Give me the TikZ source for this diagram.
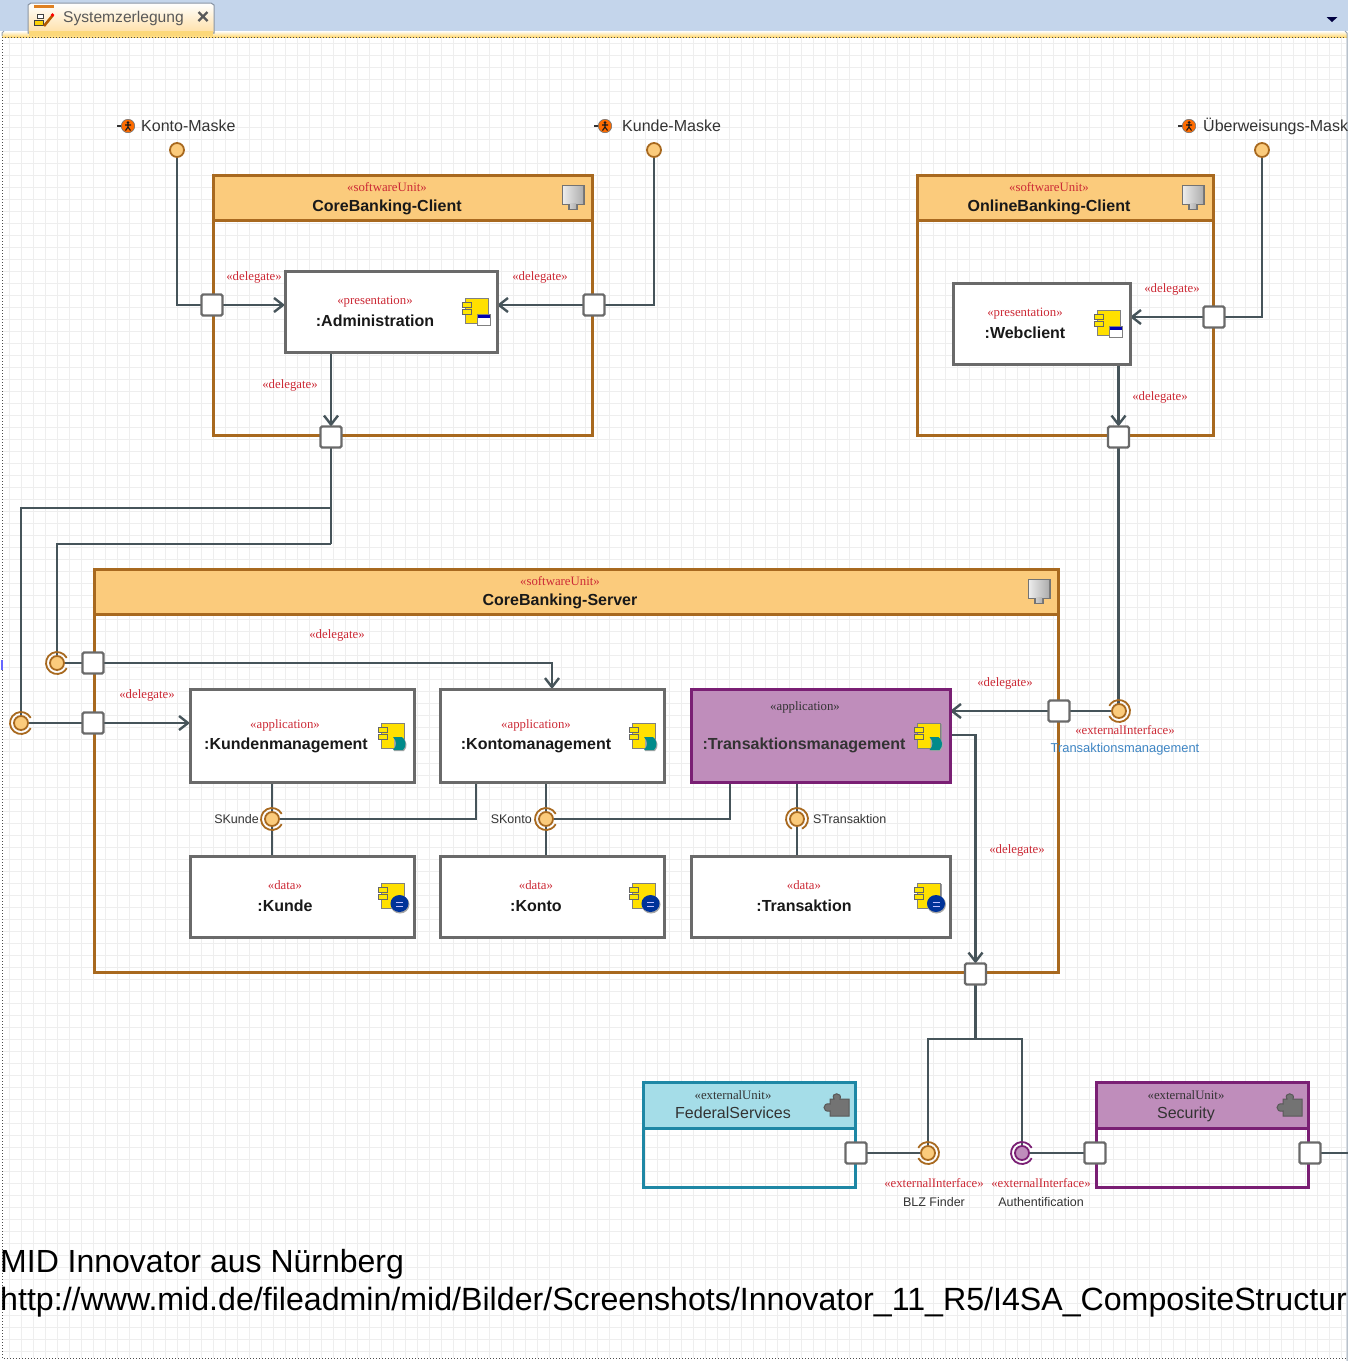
\documentclass[tikz,border=0pt]{standalone}
\usepackage{fontspec}
\setmainfont{Liberation Sans}
\newfontfamily\serifx{Liberation Serif}
\usetikzlibrary{arrows.meta,calc}
\pgfdeclarelayer{bgl}
\pgfdeclarelayer{wl}
\pgfsetlayers{bgl,wl,main}
\definecolor{barblue}{HTML}{C4D5EB}
\definecolor{gridc}{HTML}{EEEEEE}
\definecolor{wire}{HTML}{46545A}
\definecolor{portg}{HTML}{6A6A6A}
\definecolor{ocfill}{HTML}{FBCB7C}
\definecolor{ocline}{HTML}{A8691F}
\definecolor{pufill}{HTML}{BF8DBB}
\definecolor{puline}{HTML}{7A1F74}
\definecolor{blfill}{HTML}{A5DDE8}
\definecolor{blline}{HTML}{1E87A5}
\definecolor{redst}{HTML}{CC2A36}
\definecolor{linkb}{HTML}{3F86C4}
\definecolor{txtg}{HTML}{333333}
\definecolor{compy}{HTML}{FFE000}
\tikzset{
  partbox/.style={draw=portg,line width=3pt,fill=white,inner sep=0pt,outer sep=0pt,anchor=north west},
  purplebox/.style={partbox,draw=puline,fill=pufill},
  portn/.style={draw=portg,line width=2.4pt,fill=white,rounded corners=1.5pt,minimum size=21pt,inner sep=0pt,outer sep=0pt},
  lolli/.style={circle,draw=ocline,line width=1.8pt,fill=ocfill,minimum size=14pt,inner sep=0pt,outer sep=0pt},
  ballp/.style={lolli,draw=puline,fill=pufill},
  st/.style={font=\serifx\fontsize{12.8}{12.8}\selectfont,text=redst,inner sep=0pt,text height=8pt,text depth=0pt},
  stdark/.style={st,text=txtg},
  pname/.style={font=\bfseries\fontsize{16}{16}\selectfont,text=black!90,inner sep=0pt,text height=12pt,text depth=0pt},
  ename/.style={font=\fontsize{16}{16}\selectfont,text=txtg,inner sep=0pt,text height=12pt,text depth=0pt},
  mask/.style={font=\fontsize{16}{16}\selectfont,text=txtg,inner sep=0pt,anchor=west,text height=12pt,text depth=0pt},
  small/.style={font=\fontsize{12.5}{12.5}\selectfont,text=txtg,inner sep=0pt,text height=9pt,text depth=0pt},
  wireln/.style={draw=wire,line width=2.8pt},
  arrowln/.style={wireln,-{Straight Barb[length=9pt,width=14pt,line width=2.4pt]}},
}
% unit box: name, x1,y1,x2,y2,yheader, fill, line
\newcommand\unitbox[8]{%
  \draw[draw=#8,line width=3pt] (#2,#6) -- (#2,#5) -- (#4,#5) -- (#4,#6);
  \node[draw=#8,fill=#7,line width=3pt,inner sep=0pt,outer sep=0pt,anchor=north west,minimum width={#4pt-#2pt},minimum height={#6pt-#3pt}] (#1) at (#2,#3) {};
}
\newcommand\partboxn[6]{% style,name,x1,y1,x2,y2
  \node[#1,minimum width={#5pt-#3pt},minimum height={#6pt-#4pt}] (#2) at (#3,#4) {};
}
% yellow component icon base
\newcommand\compbase[2]{%
  \fill[black!40] (#1-10,#2-13) rectangle (#1+13,#2+12);
  \draw[draw=black!50,fill=compy,line width=.7pt] (#1-11,#2-14) rectangle (#1+12,#2+11);
  \draw[draw=black!60,fill=yellow!90!orange,line width=.7pt] (#1-14,#2-10) rectangle (#1-5,#2-5);
  \draw[draw=black!60,fill=yellow!90!orange,line width=.7pt] (#1-14,#2-3) rectangle (#1-5,#2+2);
}
\newcommand\iconwin[2]{\compbase{#1}{#2}%
  \draw[draw=black!50,fill=white,line width=.7pt] (#1+1,#2+2) rectangle (#1+14,#2+13);
  \fill[blue!70!black] (#1+1.5,#2+2.5) rectangle (#1+13.5,#2+5.5);}
\newcommand\iconapp[2]{\compbase{#1}{#2}%
  \fill[black!35] (#1+2,#2+1) -- (#1+11,#2+1) .. controls (#1+15,#2+4) and (#1+16,#2+10) .. (#1+12,#2+14) -- (#1+2,#2+14) -- cycle;
  \fill[teal!80!cyan!90!black] (#1+1,#2) -- (#1+10,#2) .. controls (#1+14,#2+3) and (#1+15,#2+9) .. (#1+11,#2+13) -- (#1+1,#2+13) .. controls (#1+5,#2+9) and (#1+5,#2+4) .. (#1+1,#2) -- cycle;}
\newcommand\icondb[2]{\compbase{#1}{#2}%
  \fill[black!35] (#1+8,#2+7.5) ellipse[x radius=9.5pt,y radius=9pt];
  \fill[blue!50!black!80!cyan] (#1+7.5,#2+6.5) ellipse[x radius=9pt,y radius=8.5pt];
  \draw[white!75!blue,line width=.8pt] (#1+4,#2+5) -- (#1+11,#2+5) (#1+4,#2+9) -- (#1+11,#2+9);}
% grey unit icon
\newcommand\uniticon[2]{%
  \fill[black!55] (#1-11,#2-12) rectangle (#1+12,#2+8);
  \fill[black!55] (#1-5,#2+8) rectangle (#1+5,#2+13);
  \shade[left color=black!8,right color=black!32] (#1-10,#2-11) rectangle (#1+10,#2+6);
  \shade[left color=black!20,right color=black!30] (#1-3,#2+6) rectangle (#1+3,#2+11);
}
% puzzle icon
\newcommand\puzzleicon[2]{%
  \draw[draw=black!65,fill=black!55,line width=1pt] (#1-7,#2-6) -- (#1-3,#2-6) .. controls (#1-7,#2-13) and (#1+6,#2-13) .. (#1+3,#2-6) -- (#1+12,#2-6) -- (#1+12,#2+11) -- (#1-7,#2+11) -- (#1-7,#2+6) .. controls (#1-15,#2+8) and (#1-15,#2-3) .. (#1-7,#2-1) -- cycle;
}
% actor icon
\newcommand\actoricon[2]{%
  \draw[black!80,line width=1.2pt] (#1-11,#2) -- (#1-6,#2);
  \draw[draw=black!55,fill=orange!85!red,line width=.6pt] (#1,#2) circle[radius=6.7pt];
  \fill[black!90] (#1,#2-3.5) circle[radius=1.5pt];
  \draw[black!90,line width=1.1pt] (#1,#2-2) -- (#1,#2+1) -- (#1-2.5,#2+4.5) (#1,#2+1) -- (#1+2.5,#2+4.5) (#1-3,#2-1) -- (#1+3,#2-1);
}
\begin{document}
\begin{tikzpicture}[x=1pt,y=-1pt]
\useasboundingbox (0,0) rectangle (1348,1361);
\begin{pgfonlayer}{bgl}
% canvas
\fill[white] (0,0) rectangle (1348,1361);
\foreach \g in {0,...,111}{\draw[gridc,line width=1pt] ({9.5+12*\g},37) -- ({9.5+12*\g},1358);}
\foreach \g in {0,...,109}{\draw[gridc,line width=1pt] (2,{43+12*\g}) -- (1346,{43+12*\g});}
% window chrome
\fill[barblue] (0,0) rectangle (1348,31);
\shade[top color=white,bottom color=yellow!45!orange!55!white] (2,31) rectangle (1347,37);
\draw[barblue!75!black,line width=1pt] (2,36) -- (2,33) -- (4,31) (1345,31) -- (1347,33) -- (1347,1361);
\draw[black!70,line width=1pt,dotted] (2,37) -- (1346,37) (2,37) -- (2,1358) -- (1346,1358);
\draw[blue!60!white,line width=1.2pt] (2,660) -- (2,670);
\shade[top color=white,bottom color=yellow!30!orange!35!white,draw=barblue!70!black,line width=1pt]
  (28,33) -- (28,5) -- (31,3) -- (211,3) -- (214,5) -- (214,33) -- cycle;
\fill[yellow!45!orange!50!white] (29,31) rectangle (213,36);
\fill[orange!50!brown] (34,5) rectangle (54,8);
\draw[black!75,fill=white,line width=.7pt] (37,14) rectangle (43,18);
\draw[black!75,fill=yellow!70!orange,line width=.7pt] (34,20) rectangle (43,25);
\draw[orange!70!black,line width=2.6pt] (53,15) -- (44,26);
\fill[red] (52.5,15) circle[radius=1.8pt];
\draw[black!65,line width=2.2pt] (198.5,12) -- (207.5,21) (198.5,21) -- (207.5,12);
\fill[black!75!blue] (1326.5,17) -- (1337.5,17) -- (1332,22) -- cycle;
\end{pgfonlayer}
\node[inner sep=0pt,anchor=west,font=\fontsize{15.6}{16}\selectfont,text=black!65,text height=11.5pt,text depth=0pt] (tabt) at (63,17) {Systemzerlegung};
% units
\unitbox{cbc}{213}{175}{592}{435}{220}{ocfill}{ocline}
\unitbox{obc}{917}{175}{1213}{435}{220}{ocfill}{ocline}
\unitbox{cbs}{94}{569}{1058}{972}{614}{ocfill}{ocline}
\unitbox{fed}{643}{1082}{855}{1187}{1128}{blfill}{blline}
\unitbox{sec}{1096}{1082}{1308}{1187}{1128}{pufill}{puline}
% parts
\partboxn{partbox}{adm}{285}{271}{497}{352}
\partboxn{partbox}{web}{953}{283}{1130}{364}
\partboxn{partbox}{kum}{190}{689}{414}{782}
\partboxn{partbox}{kom}{440}{689}{664}{782}
\partboxn{purplebox}{trm}{691}{689}{950}{782}
\partboxn{partbox}{kun}{190}{856}{414}{937}
\partboxn{partbox}{kon}{440}{856}{664}{937}
\partboxn{partbox}{tra}{691}{856}{950}{937}
% ports
\node[portn] (p1) at (212,305) {};
\node[portn] (p2) at (594,305) {};
\node[portn] (p3) at (331,437) {};
\node[portn] (p4) at (1214,317) {};
\node[portn] (p5) at (1118.5,437) {};
\node[portn] (p6) at (93,663) {};
\node[portn] (p7) at (93,723) {};
\node[portn] (p8) at (1059,711) {};
\node[portn] (p9) at (975.5,974) {};
\node[portn] (p10) at (856,1153) {};
\node[portn] (p11) at (1095,1153) {};
\node[portn] (p12) at (1310,1153) {};
% interface balls
\node[lolli] (lk) at (177,150) {};
\node[lolli] (lu) at (654,150) {};
\node[lolli] (lw) at (1262,150) {};
\node[lolli] (i1) at (57,663) {};
\node[lolli] (i2) at (21,723) {};
\node[lolli] (i3) at (272,819) {};
\node[lolli] (i4) at (546,819) {};
\node[lolli] (i5) at (797,819) {};
\node[lolli] (i6) at (1119,711) {};
\node[lolli] (i7) at (928,1153) {};
\node[ballp] (i8) at (1022,1153) {};
\coordinate (edge) at (1348,1153);
\coordinate (j1) at (331,508);
\coordinate (j2) at (331,544);
\coordinate (j3) at (975.5,1039);
% sockets
\foreach \n/\a in {i1/0,i2/0,i3/0,i4/0,i5/270,i7/180,i6/180}{
  \draw[ocline,line width=1.8pt] ($(\n)+({\a+28}:11pt)$) arc[start angle={\a+28},end angle={\a+332},radius=11pt];
}
\draw[puline,line width=1.8pt] ($(i8)+(28:11pt)$) arc[start angle=28,end angle=332,radius=11pt];
% connectors
\begin{pgfonlayer}{wl}
\draw[wireln] (lk.south) |- (p1.west);
\draw[arrowln] (p1.east) -- (adm.west |- p1);
\draw[wireln] (lu.south) |- (p2.east);
\draw[arrowln] (p2.west) -- (adm.east |- p2);
\draw[arrowln] (adm.south -| p3) -- (p3.north);
\draw[wireln] (lw.south) |- (p4.east);
\draw[arrowln] (p4.west) -- (web.east |- p4);
\draw[arrowln] (web.south -| p5) -- (p5.north);
\draw[wireln] (p5.south) -- (i6.north -| p5);
\draw[wireln] (p3.south) -- (j2);
\draw[wireln] (j1) -| (i2.north);
\draw[wireln] (j2) -| (i1.north);
\draw[wireln] (i1.east) -- (p6.west);
\draw[wireln] (i2.east) -- (p7.west);
\draw[arrowln] (p7.east) -- (kum.west |- p7);
\draw[arrowln] (p6.east) -| (kom.north);
\draw[wireln] (kum.south -| i3) -- (i3.north);
\draw[wireln] (i3.south) -- (kun.north -| i3);
\draw[wireln] (i3.east) -| ($(kom.south west)+(36,0)$);
\draw[wireln] (kom.south -| i4) -- (i4.north);
\draw[wireln] (i4.south) -- (kon.north -| i4);
\draw[wireln] (i4.east) -| ($(trm.south west)+(39,0)$);
\draw[wireln] (trm.south -| i5) -- (i5.north);
\draw[wireln] (i5.south) -- (tra.north -| i5);
\draw[arrowln] (p8.west) -- (trm.east |- p8);
\draw[wireln] (p8.east) -- (i6.west);
\draw[arrowln] ($(trm.north east)+(0,46)$) -| (p9.north);
\draw[wireln] (p9.south) -- (j3);
\draw[wireln] (i7.north) |- (j3) -| (i8.north);
\draw[wireln] (p10.east) -- (i7.west);
\draw[wireln] (i8.east) -- (p11.west);
\draw[wireln] (p12.east) -- (edge);
\end{pgfonlayer}
% texts
\node[mask] (tk) at (141,125) {Konto-Maske};
\node[mask] (tu) at (622,125) {Kunde-Maske};
\node[mask] (tw) at (1203,125) {Überweisungs-Mask};
\node[st] (s1) at (387,187) {«softwareUnit»};
\node[pname] (n1) at (387,205) {CoreBanking-Client};
\node[st] (s2) at (1049,187) {«softwareUnit»};
\node[pname] (n2) at (1049,205) {OnlineBanking-Client};
\node[st] (s3) at (560,581) {«softwareUnit»};
\node[pname] (n3) at (560,599) {CoreBanking-Server};
\node[st] (s4) at (375,300) {«presentation»};
\node[pname] (n4) at (375,320) {:Administration};
\node[st] (s5) at (1025,312) {«presentation»};
\node[pname] (n5) at (1025,332) {:Webclient};
\node[st] (s6) at (285,724) {«application»};
\node[pname] (n6) at (286,743) {:Kundenmanagement};
\node[st] (s7) at (536,724) {«application»};
\node[pname] (n7) at (536,743) {:Kontomanagement};
\node[stdark] (s8) at (805,706) {«application»};
\node[pname,text=txtg] (n8) at (804,743) {:Transaktionsmanagement};
\node[st] (s9) at (285,885) {«data»};
\node[pname] (n9) at (285,905) {:Kunde};
\node[st] (s10) at (536,885) {«data»};
\node[pname] (n10) at (536,905) {:Konto};
\node[st] (s11) at (804,885) {«data»};
\node[pname] (n11) at (804,905) {:Transaktion};
\node[stdark] (s12) at (733,1095) {«externalUnit»};
\node[ename] (n12) at (733,1112) {FederalServices};
\node[stdark] (s13) at (1186,1095) {«externalUnit»};
\node[ename] (n13) at (1186,1112) {Security};
\node[st] (d1) at (254,276) {«delegate»};
\node[st] (d2) at (540,276) {«delegate»};
\node[st] (d3) at (290,384) {«delegate»};
\node[st] (d4) at (1172,288) {«delegate»};
\node[st] (d5) at (1160,396) {«delegate»};
\node[st] (d6) at (337,634) {«delegate»};
\node[st] (d7) at (147,694) {«delegate»};
\node[st] (d8) at (1005,682) {«delegate»};
\node[st] (d9) at (1017,849) {«delegate»};
\node[small,anchor=east] (l1) at (259,818.5) {SKunde};
\node[small,anchor=east] (l2) at (532,818.5) {SKonto};
\node[small,anchor=west] (l3) at (813,818.5) {STransaktion};
\node[st] (e1) at (1125,730) {«externalInterface»};
\node[small,text=linkb,font=\fontsize{12.9}{13}\selectfont] (l4) at (1125,748) {Transaktionsmanagement};
\node[st] (e2) at (934,1183) {«externalInterface»};
\node[st] (e3) at (1041,1183) {«externalInterface»};
\node[small] (l5) at (934,1202) {BLZ Finder};
\node[small] (l6) at (1041,1202) {Authentification};
\node[inner sep=0pt,anchor=base west,font=\fontsize{32}{32}\selectfont,text=black] (b1) at (0,1272) {MID Innovator aus Nürnberg};
\node[inner sep=0pt,anchor=base west,font=\fontsize{32.15}{32}\selectfont,text=black] (b2) at (0,1310) {http://www.mid.de/fileadmin/mid/Bilder/Screenshots/Innovator\_11\_R5/I4SA\_CompositeStructur};
% icons
\actoricon{128}{126}
\actoricon{605}{126}
\actoricon{1189}{126}
\uniticon{573}{197}
\uniticon{1193}{197}
\uniticon{1039}{591}
\puzzleicon{837}{1105}
\puzzleicon{1290}{1105}
\iconwin{476}{312}
\iconwin{1108}{324}
\iconapp{392}{737}
\iconapp{643}{737}
\iconapp{928.5}{737}
\icondb{392}{897}
\icondb{643}{897}
\icondb{928.5}{897}
\end{tikzpicture}
\end{document}
